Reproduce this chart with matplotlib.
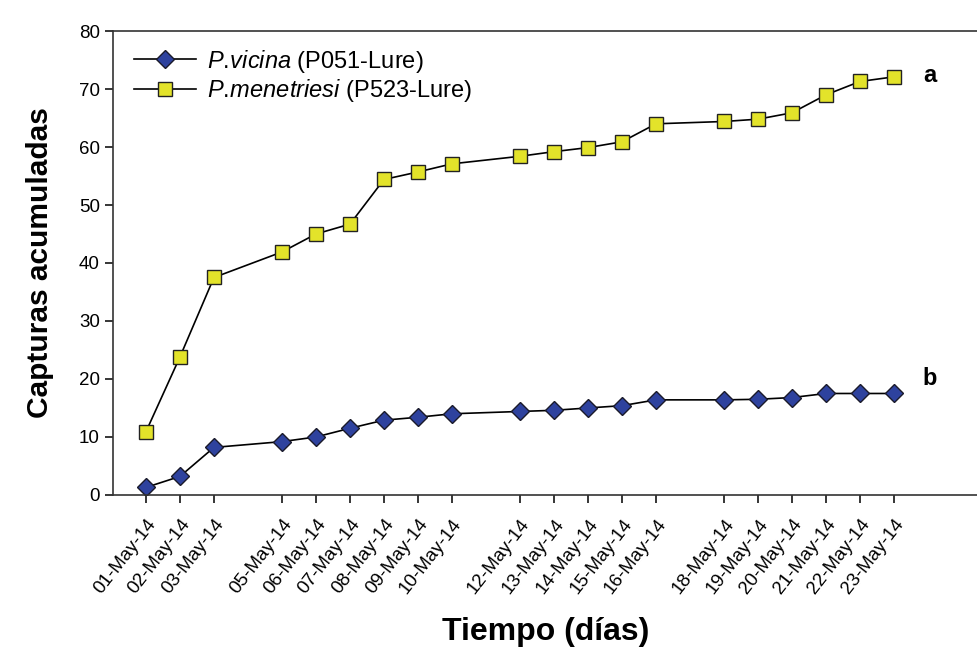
import matplotlib
matplotlib.use("Agg")
import matplotlib.pyplot as plt

plt.rcParams['font.family'] = ['Liberation Sans', 'DejaVu Sans']
plt.rcParams['mathtext.fontset'] = 'custom'
plt.rcParams['mathtext.it'] = 'Liberation Sans:italic'
plt.rcParams['mathtext.rm'] = 'Liberation Sans'

# sampling dates (no catches recorded on 04, 11, 17 May)
fechas = ["01-May-14", "02-May-14", "03-May-14", "05-May-14", "06-May-14",
          "07-May-14", "08-May-14", "09-May-14", "10-May-14", "12-May-14",
          "13-May-14", "14-May-14", "15-May-14", "16-May-14", "18-May-14",
          "19-May-14", "20-May-14", "21-May-14", "22-May-14", "23-May-14"]
vicina = [1.3, 3.2, 8.2, 9.2, 10.0, 11.5, 12.9, 13.4, 14.0, 14.4,
          14.6, 15.0, 15.4, 16.4, 16.4, 16.5, 16.8, 17.5, 17.5, 17.5]
menetriesi = [10.9, 23.8, 37.5, 41.9, 45.0, 46.7, 54.4, 55.7, 57.1, 58.4,
              59.2, 59.9, 60.9, 64.0, 64.4, 64.8, 65.9, 69.0, 71.3, 72.1]
dias = [int(f[:2]) for f in fechas]

fig = plt.figure(figsize=(9.78, 6.53), dpi=100)
ax = fig.add_axes([0.1155, 0.242, 0.8845, 0.7105])

ax.plot(dias, vicina, '-D', color='black', lw=1.2, ms=9.5,
        mfc='#2e429e', mec='#1a1a2a', mew=1.0,
        label=r'$\mathit{P.\!vicina}$ (P051-Lure)')
ax.plot(dias, menetriesi, '-s', color='black', lw=1.2, ms=9.5,
        mfc='#e3e32a', mec='#222222', mew=1.0,
        label=r'$\mathit{P.\!menetriesi}$ (P523-Lure)')

ax.set_xlim(0.03, 25.47)
ax.set_ylim(0, 80)
ax.set_yticks(range(0, 81, 10))
ax.set_xticks(dias)
ax.set_xticklabels(fechas, rotation=52, ha='right', rotation_mode='anchor')
ax.tick_params(axis='both', direction='out', length=6, width=1.1, labelsize=13.5)
ax.tick_params(axis='x', labelsize=13.5, pad=9)

for s in ['left', 'bottom', 'top']:
    ax.spines[s].set_linewidth(1.2)
    ax.spines[s].set_color('#333333')
ax.spines['right'].set_visible(False)

ax.text(dias[-1] + 0.85, menetriesi[-1] + 0.3, 'a', fontsize=17, fontweight='bold',
        va='center', ha='left')
ax.text(dias[-1] + 0.85, vicina[-1] + 2.5, 'b', fontsize=17, fontweight='bold',
        va='center', ha='left')

ax.set_ylabel('Capturas acumuladas', fontsize=21.5, fontweight='bold', labelpad=18)
ax.set_xlabel('Tiempo (días)', fontsize=23, fontweight='bold', labelpad=14)

leg = ax.legend(loc='upper left', frameon=False, fontsize=17,
                bbox_to_anchor=(0.0, 1.01), handlelength=2.6,
                handletextpad=0.5, labelspacing=0.1)

fig.savefig('out.png', dpi=100)
